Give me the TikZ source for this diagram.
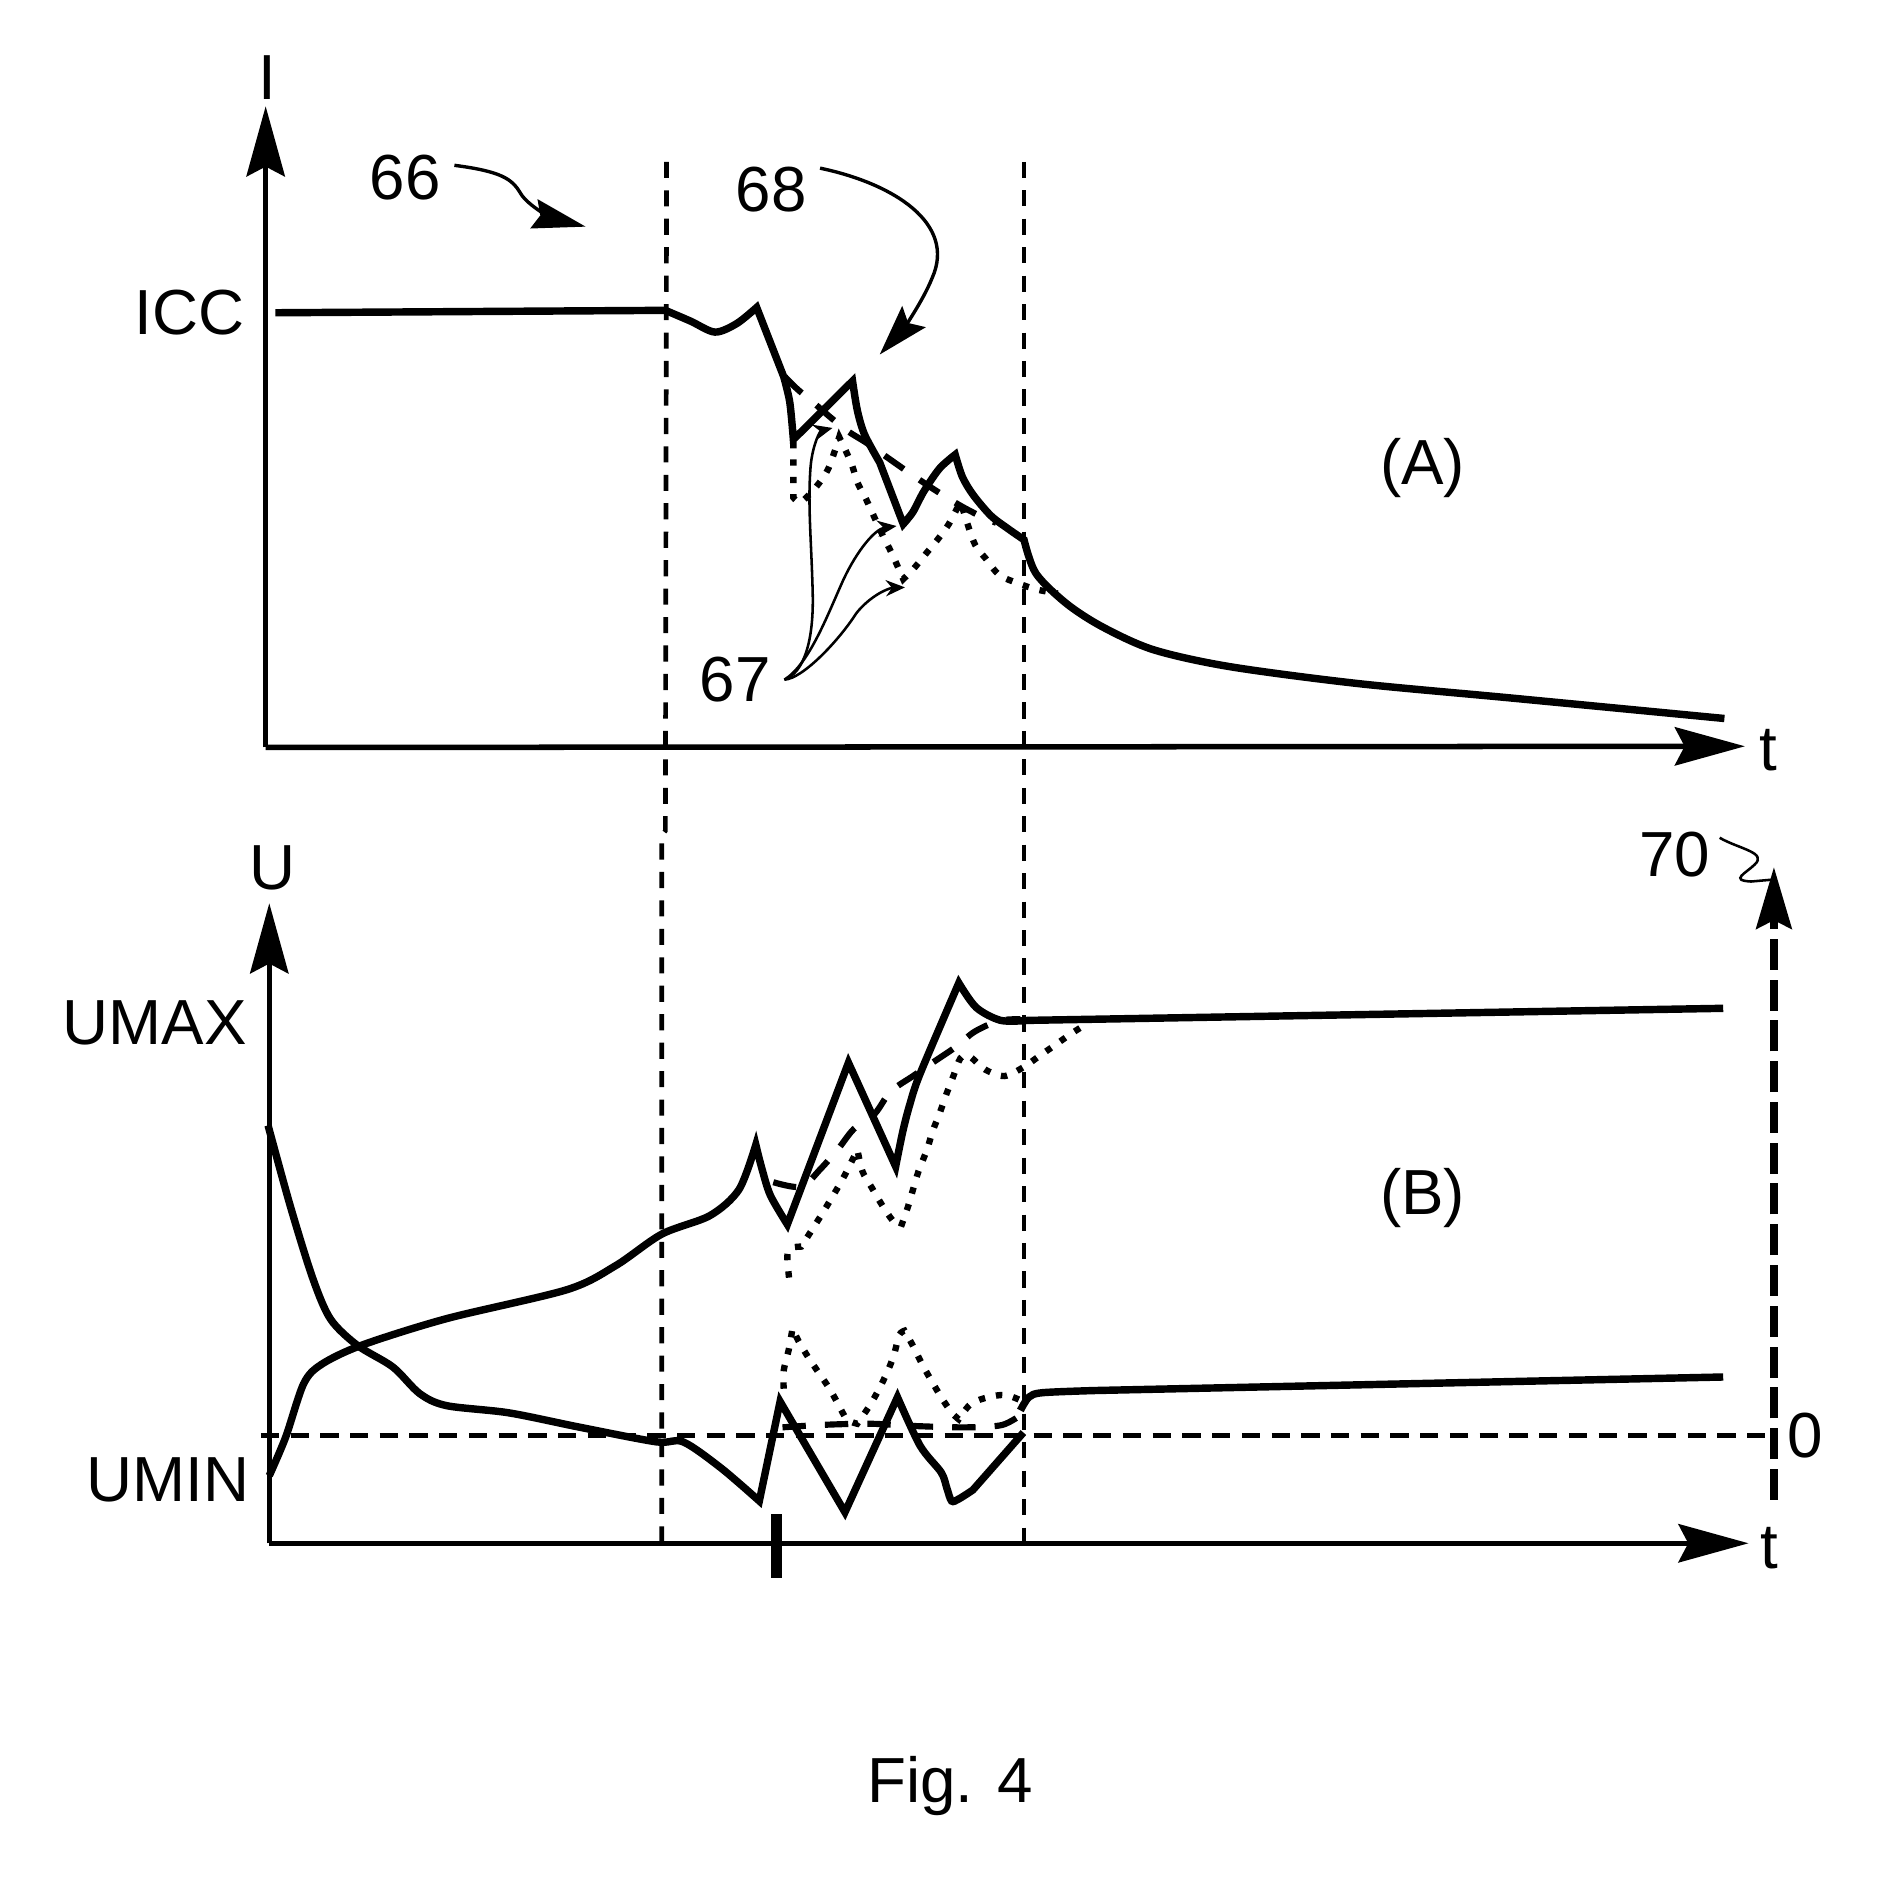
\documentclass[tikz,border=0pt]{standalone}
\usepackage{fontspec}
\setmainfont{Liberation Sans}
\usetikzlibrary{arrows.meta}
\begin{document}
\begin{tikzpicture}[x=0.01cm,y=-0.01cm]
\tikzset{
 axisline/.style={line width=1.3pt},
 axisarrow/.style={axisline,-{Stealth[length=16.5pt,width=9pt,inset=2.3pt]}},
 curve/.style={line width=1.75pt,line join=miter},
 dashcurve/.style={line width=1.45pt,dash pattern=on 5.5pt off 4.5pt},
 dotcurve/.style={line width=1.5pt,dash pattern=on 1.5pt off 2.6pt},
 guide/.style={line width=1.1pt,dash pattern=on 3.8pt off 2.9pt},
 guideh/.style={line width=1.15pt,dash pattern=on 4.3pt off 2.7pt},
 leader/.style={line width=0.6pt},
 leaderarrow/.style={leader,-{Stealth[length=4.5pt,width=3.8pt]}},
 lbl/.style={inner sep=0pt,font=\fontsize{15}{18}\selectfont,anchor=base},
}
\useasboundingbox (0,0) rectangle (1556,1561);

% ---------- panel A axes ----------
\coordinate (A0) at (220,619);
\coordinate (Atop) at (220,88);
\coordinate (Aright) at (1445,618);
\draw[axisarrow] (A0) -- (Atop);
\draw[axisarrow] (A0) -- (Aright);

% ---------- panel B axes ----------
\coordinate (B0) at (223,1278);
\coordinate (Btop) at (223,748);
\coordinate (Bright) at (1448,1278);
\draw[axisarrow] (B0) -- (Btop);
\draw[axisarrow] (B0) -- (Bright);

% vertical dashed guides
\draw[guide] (552,134) -- (551,688) -- (548,692) -- (548,1278);
\draw[guide] (848,134) -- (848,1278);
% UMIN dashed line
\draw[guideh] (216,1189) -- (1466,1189);
% dashed arrow 70
\coordinate (v70b) at (1469,1242);
\coordinate (v70t) at (1469,718);
\draw[line width=1.9pt,dash pattern=on 7.3pt off 2.3pt,-{Stealth[length=14.5pt,width=8.3pt,inset=2pt]}] (v70b) -- (v70t);

% tick mark
\draw[line width=2.5pt] (643,1254) -- (643,1307);

% ---------- panel A curves ----------
\draw[curve] (228,259) -- (551,257)
 -- plot[smooth] coordinates {(551,257) (572,266) (592,275) (610,268) (626.6,254.6)}
 -- (649,312)
 -- plot[smooth] coordinates {(649,312) (654,333) (657,364)}
 -- (706,315.5)
 -- plot[smooth] coordinates {(706,315.5) (710,340) (716,360) (728.5,383)}
 -- (748,434)
 -- plot[smooth] coordinates {(748,434) (756,424) (765,407) (778,388) (791,376.5)}
 -- plot[smooth] coordinates {(791,376.5) (797,395) (806,410) (820.5,427) (835,438) (848,447)}
 -- plot[smooth] coordinates {(848,447) (857.8,474.8) (883,499.7) (912.7,519) (955,538) (1018,552) (1124,566) (1251,578) (1428,595)};

\draw[dashcurve] plot[smooth] coordinates {(650,312) (660,322) (672,332) (687,345) (702,357) (718,367) (735,379) (755,393) (773,405) (794,418) (811,427) (825,433)};

\draw[dotcurve] (657,366) -- (657,412)
 -- plot[smooth] coordinates {(657,412) (660,415) (664,415.4) (676,403) (686,388) (695,362)}
 -- plot[smooth] coordinates {(695,362) (704.8,383.2) (710.3,400) (717.3,413.6) (724.3,428.9) (731.3,444) (738.2,457.6) (748,479.6)}
 -- plot[smooth] coordinates {(748,479.6) (756.4,471.2) (766.1,459.3) (775.9,447.5) (785.7,434) (795.4,415.4)}
 -- plot[smooth] coordinates {(795.4,415.4) (806.6,449.2) (816.4,462.7) (827.5,476.2) (842.9,483) (858.2,488.1) (876,491.5)};

% ---------- panel B curves ----------
% falling curve, continuing as lower solid
\draw[curve] plot[smooth] coordinates {(222,932) (240.3,998.4) (258.8,1058) (273.6,1092.2) (295.8,1114) (325.3,1132) (347.5,1154) (369.7,1164) (421.5,1170) (480.6,1182) (543.5,1194) (565.6,1194) (597,1215.6) (628.8,1243)}
 -- (646,1160.6) -- (699.7,1252.3) -- (743.2,1157)
 -- plot[smooth] coordinates {(743.2,1157) (762,1197.3) (779.4,1219.3) (784,1232) (788,1243) (794,1241.3) (805.5,1234)}
 -- (847.5,1186.3);
\draw[curve] plot[smooth] coordinates {(845,1168) (852,1157) (863.4,1153.3) (907,1151.5)} -- (1427,1140.3);

% rising curve, continuing as upper solid
\draw[curve] plot[smooth] coordinates {(223,1222) (236.6,1190) (251.4,1146) (266,1130) (299.5,1114) (369.7,1092) (469.5,1068) (510,1048) (548,1022) (588,1006.6) (612,985) (625.9,948)}
 -- plot[smooth] coordinates {(625.9,948) (631,968) (638,990) (652,1014)}
 -- (702.6,880) -- (741.7,966)
 -- plot[smooth] coordinates {(741.7,966) (747.6,937) (753.3,915) (762,889) (794,814)}
 -- plot[smooth] coordinates {(794,814) (808.4,834.3) (828.7,845) (851,845)}
 -- (1427,835);

\draw[dashcurve] plot[smooth] coordinates {(640.4,979) (663.5,982.8) (679.5,968) (694,951.6) (707,935) (724.4,922.3) (737.4,904) (756.2,891) (772.2,880) (791,867.3) (807,854.4) (827.2,845.3) (845,844)};

\draw[dotcurve] plot[smooth] coordinates {(653.4,1058) (652,1040) (655,1033.5) (663.5,1032.3)}
 -- plot[smooth] coordinates {(663.5,1032.3) (681,1004.8) (698.3,975.5) (710,952)}
 -- plot[smooth] coordinates {(710,952) (714.2,970) (721.5,982.8) (730.2,997.5) (738.9,1010.3) (746.1,1015.8)}
 -- plot[smooth] coordinates {(746.1,1015.8) (751.9,999.3) (756.2,984.6) (760.6,970) (767.8,951.6) (772.2,937) (778,922.3) (783.8,905.8) (789.5,891.1) (795.3,876.4) (802.6,874.6) (815.6,885.6) (831.6,891.1) (847.5,883.8) (860.5,874.6) (873.6,865.5) (886.6,856.3) (901,847.1)};

\draw[dotcurve] plot[smooth] coordinates {(649,1150) (649,1135) (653.4,1116.6) (656.3,1100)}
 -- plot[smooth] coordinates {(656.3,1100) (660.6,1109.3) (669.3,1124) (678,1136.8) (686.7,1149.6) (694,1162.5) (701.2,1175.3) (709.9,1179)}
 -- plot[smooth] coordinates {(709.9,1179) (720,1164.3) (727.3,1151.5) (734.5,1136.8) (740.3,1122.1) (744.6,1105.6) (749,1102)}
 -- plot[smooth] coordinates {(749,1102) (756.2,1114.8) (763.5,1129.5) (770.7,1142.3) (779.4,1157) (788.1,1169.8) (793.9,1175.3)}
 -- plot[smooth] coordinates {(793.9,1175.3) (804,1162.5) (818.5,1157) (833,1155.2) (846,1160)};

\draw[dashcurve] plot[smooth] coordinates {(648,1182) (680,1180) (720,1179) (760,1181) (800,1182) (830,1180) (848,1170)};

% ---------- labels ----------
\node[lbl] (lI) at (221.3,82) {I};
\node[lbl,anchor=base east] (lICC) at (203,277.4) {ICC};
\node[lbl] (n66) at (335.7,165.6) {66};
\node[lbl] (n68) at (638.5,175) {68};
\node[lbl] (n67) at (609,581) {67};
\node[lbl] (lA) at (1178,401.6) {(A)};
\node[lbl] (ltA) at (1464,637.7) {t};
\node[lbl] (lU) at (225.5,737) {U};
\node[lbl,anchor=base east] (lUMAX) at (205.2,864.7) {UMAX};
\node[lbl,anchor=base east] (lUMIN) at (207,1243.8) {UMIN};
\node[lbl] (lB) at (1178,1006) {(B)};
\node[lbl] (n70) at (1387,726) {70};
\node[lbl] (l0) at (1494.5,1207) {0};
\node[lbl] (ltB) at (1465,1299) {t};
\node[lbl] (lfig) at (786.7,1493) {Fig. 4};

% ---------- leaders ----------
\coordinate (s66) at ([xshift=3pt,yshift=3pt]n66.east);
\coordinate (e66) at (485,187.7);
\draw[leader,line width=0.8pt,-{Stealth[length=12.5pt,width=7pt,inset=1.5pt]}] (s66) .. controls (415,142) and (424,148) .. (431,160) .. controls (438,172) and (462,182) .. (e66);

\coordinate (s68) at ([xshift=3pt,yshift=5pt]n68.east);
\coordinate (e68) at (728.5,293.6);
\draw[leader,line width=0.8pt,-{Stealth[length=12pt,width=7.4pt,inset=2pt]}] (s68) .. controls (740,152) and (792,185) .. (772,230) .. controls (764,250) and (748,272) .. (e68);

\coordinate (s67) at ([xshift=3pt]n67.east);
\coordinate (e67a) at (689.4,354.4);
\coordinate (e67b) at (742.4,435.6);
\coordinate (e67c) at (749.4,486.4);
\draw[leaderarrow] (s67) .. controls (666,557) and (674,530) .. (673,491) .. controls (672,450) and (669,420) .. (671,390) .. controls (672,370) and (679,357) .. (e67a);
\draw[leaderarrow] (s67) .. controls (670,550) and (685,510) .. (698,481) .. controls (710,455) and (725,438) .. (e67b);
\draw[leaderarrow] (s67) .. controls (665,562) and (695,530) .. (709,508) .. controls (720,494) and (735,487) .. (e67c);

\coordinate (s70) at ([xshift=2pt,yshift=4pt]n70.east);
\coordinate (e70) at (1467,728.5);
\draw[leader] (s70) .. controls (1440,703) and (1464,706) .. (1453,716) .. controls (1446,723) and (1432,729) .. (1450,730) -- (e70);
\end{tikzpicture}
\end{document}
